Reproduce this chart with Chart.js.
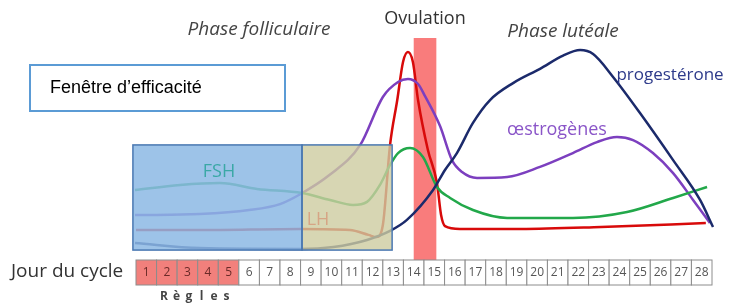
<!DOCTYPE html>
<html lang="fr">
<head>
<meta charset="utf-8">
<title>Cycle menstruel</title>
<script src="https://cdn.jsdelivr.net/npm/chart.js@4.4.1/dist/chart.umd.min.js"></script>
<style>
  html, body { margin: 0; padding: 0; background: #ffffff; }
  #cycle { display: block; }
</style>
</head>
<body>
<canvas id="cycle" width="737" height="307"></canvas>
<script>
// Jours du cycle (cases du bandeau) et jours des règles
var jours = ["1", "2", "3", "4", "5", "6", "7", "8", "9", "10", "11", "12", "13", "14",
             "15", "16", "17", "18", "19", "20", "21", "22", "23", "24", "25", "26", "27", "28"];
var joursRegles = [1, 2, 3, 4, 5];
var ovulation = [14, 15.1];

// LH (rouge)
var lhJour = [0.5, 3.6, 8.5, 10.9, 11.8, 12.2, 12.5, 12.85, 13.2, 13.48, 13.72, 13.96, 14.21, 14.69, 15.13, 15.33, 15.52, 16.25, 19.2, 23.1, 28.2];
var lhNiveau = [12.7, 12.7, 13.2, 12.7, 10.5, 9.5, 15, 51.4, 71.8, 89.1, 93.6, 89.1, 71.8, 49.1, 34.1, 19.5, 14.5, 13.2, 13.2, 14.1, 15.9];

// Œstrogènes (violet)
var oestroJour = [0.45, 3.6, 6.0, 7.5, 8.5, 9.9, 11.4, 12.5, 13.24, 13.72, 14.21, 14.55, 15.28, 15.86, 16.35, 17.08, 18.54, 20.14, 21.74, 22.91, 23.88, 24.66, 25.63, 26.61, 27.58, 28.4];
var oestroNiveau = [19.5, 20, 21.8, 24.5, 29.1, 37.7, 51.4, 73.2, 80, 81.4, 79.1, 73.6, 60, 44.5, 39.1, 36.4, 36.8, 41.4, 47.7, 52.7, 55, 53.6, 47.7, 38.6, 26.4, 15.9];

// FSH (vert)
var fshJour = [0.45, 2.64, 4.58, 6.38, 8.57, 9.93, 11.05, 11.73, 12.36, 12.85, 13.24, 13.82, 14.45, 15.13, 15.77, 16.88, 18.54, 21.74, 24.37, 26.61, 28.26];
var fshNiveau = [30.9, 33.2, 34.1, 31.4, 29.5, 26.4, 24.1, 25.5, 33.2, 42.3, 47.7, 50, 45.9, 32.3, 27.3, 21.8, 18.2, 18.2, 20.9, 27.3, 32.3];

// Progestérone (bleu foncé)
var progJour = [0.45, 3.6, 8.5, 10.1, 11.73, 12.85, 13.67, 14.94, 15.52, 16.1, 16.88, 17.71, 18.83, 20.14, 21.26, 22.09, 22.72, 23.69, 25.0, 26.61, 27.92, 28.55];
var progNiveau = [6.8, 4.5, 4.1, 5, 8.2, 12.3, 17.3, 30.9, 40, 47.7, 61.4, 71.8, 79.5, 86, 92, 94.5, 92.7, 82.3, 65.9, 44.5, 26.4, 14.1];

/**
 * Construit les points {x, y} d'une courbe à partir de deux tableaux
 */
function points(xs, ys) {
    return xs.map(function (x, i) { return { x: x, y: ys[i] }; });
}

/**
 * Plugin : bande d'ovulation derrière les courbes
 */
var bandeOvulation = {
    id: "bandeOvulation",
    beforeDatasetsDraw: function (chart) {
        var ctx = chart.ctx, x = chart.scales.x;
        var x1 = x.getPixelForValue(ovulation[0]);
        var x2 = x.getPixelForValue(ovulation[1]);
        ctx.save();
        ctx.fillStyle = "#f97c7c";
        ctx.fillRect(x1, chart.chartArea.top, x2 - x1, 260 - chart.chartArea.top);
        ctx.restore();
    }
};

/**
 * Plugin : rectangles de la fenêtre, bandeau des jours et textes
 */
var decor = {
    id: "decor",
    afterDatasetsDraw: function (chart) {
        var ctx = chart.ctx, x = chart.scales.x, y = chart.scales.y;
        var yHaut = y.getPixelForValue(51.4), yBas = y.getPixelForValue(3.6);
        var xa = x.getPixelForValue(0.35), xb = x.getPixelForValue(8.57), xc = x.getPixelForValue(12.95);

        ctx.save();
        // Fenêtre (bleu) et zone claire (kaki)
        ctx.fillStyle = "rgba(140,185,228,0.85)";
        ctx.fillRect(xa, yHaut, xb - xa, yBas - yHaut);
        ctx.fillStyle = "rgba(205,204,160,0.8)";
        ctx.fillRect(xb, yHaut, xc - xb, yBas - yHaut);
        ctx.strokeStyle = "#4a78b2";
        ctx.lineWidth = 1.5;
        ctx.strokeRect(xa, yHaut, xb - xa, yBas - yHaut);
        ctx.strokeRect(xb, yHaut, xc - xb, yBas - yHaut);

        // Étiquettes FSH et LH
        ctx.font = "18px 'Open Sans'";
        ctx.textAlign = "center";
        ctx.textBaseline = "middle";
        ctx.fillStyle = "#3ba8a6";
        ctx.fillText("FSH", 219, 172);
        ctx.fillStyle = "#d6a585";
        ctx.fillText("LH", 318, 220);

        // Bandeau des jours
        var haut = 260, bas = 285;
        ctx.font = "12px 'Open Sans'";
        jours.forEach(function (j, i) {
            var d = i + 1;
            var g = x.getPixelForValue(d - 0.5), dr = x.getPixelForValue(d + 0.5);
            ctx.fillStyle = joursRegles.indexOf(d) >= 0 ? "#f2807c" : "#ffffff";
            ctx.fillRect(g, haut, dr - g, bas - haut);
            ctx.strokeStyle = "#8c8c8c";
            ctx.lineWidth = 1;
            ctx.strokeRect(g, haut, dr - g, bas - haut);
            ctx.fillStyle = joursRegles.indexOf(d) >= 0 ? "#6b2a28" : "#555555";
            ctx.fillText(j, (g + dr) / 2, (haut + bas) / 2);
        });

        ctx.fillStyle = "#333333";
        ctx.font = "19px 'Open Sans'";
        ctx.textAlign = "left";
        ctx.fillText("Jour du cycle", 11, 272);
        ctx.font = "bold 12px 'Open Sans'";
        ctx.fillStyle = "#444444";
        ctx.textAlign = "center";
        "Règles".split("").forEach(function (c, i) {
            ctx.fillText(c, 164 + i * 12.5, 297);
        });

        // Titres des phases
        ctx.font = "italic 19px 'Open Sans'";
        ctx.fillStyle = "#444444";
        ctx.fillText("Phase folliculaire", 259, 30);
        ctx.fillText("Phase lutéale", 563, 32);
        ctx.font = "18px 'Open Sans'";
        ctx.fillStyle = "#333333";
        ctx.fillText("Ovulation", 425, 19);

        // Noms des hormones
        ctx.font = "17px 'Open Sans'";
        ctx.fillStyle = "#2d3a8a";
        ctx.fillText("progestérone", 670, 75);
        ctx.font = "18px 'Open Sans'";
        ctx.fillStyle = "#8a55c8";
        ctx.fillText("œstrogènes", 557, 130);

        // Encadré « Fenêtre d'efficacité »
        ctx.fillStyle = "#ffffff";
        ctx.fillRect(30, 65, 255, 46);
        ctx.strokeStyle = "#5b9bd5";
        ctx.lineWidth = 2;
        ctx.strokeRect(30, 65, 255, 46);
        ctx.fillStyle = "#000000";
        ctx.font = "18px 'Liberation Sans'";
        ctx.textAlign = "left";
        ctx.fillText("Fenêtre d’efficacité", 50, 88);
        ctx.restore();
    }
};

/**
 * Fonction pour générer le graphique des hormones
 */
function cargaGrafico() {
    var ligne = function (label, couleur, xs, ys) {
        return {
            label: label,
            data: points(xs, ys),
            borderColor: couleur,
            borderWidth: 2.5,
            pointRadius: 0,
            cubicInterpolationMode: "monotone",
            clip: false
        };
    };

    var datos = {
        datasets: [
            ligne("progestérone", "#1b2a6b", progJour, progNiveau),
            ligne("FSH", "#22a84a", fshJour, fshNiveau),
            ligne("œstrogènes", "#7c3fbf", oestroJour, oestroNiveau),
            ligne("LH", "#d80a0a", lhJour, lhNiveau)
        ]
    };

    var config = {
        type: "line",
        data: datos,
        options: {
            responsive: false,
            animation: false,
            layout: { padding: { left: 136, right: 25, top: 38, bottom: 49 } },
            plugins: {
                legend: { display: false },
                tooltip: { enabled: false }
            },
            scales: {
                x: { type: "linear", min: 0.5, max: 28.5, display: false },
                y: { min: 0, max: 100, display: false }
            }
        },
        plugins: [bandeOvulation, decor]
    };

    new Chart(document.getElementById("cycle").getContext("2d"), config);
}

cargaGrafico();
</script>
</body>
</html>
